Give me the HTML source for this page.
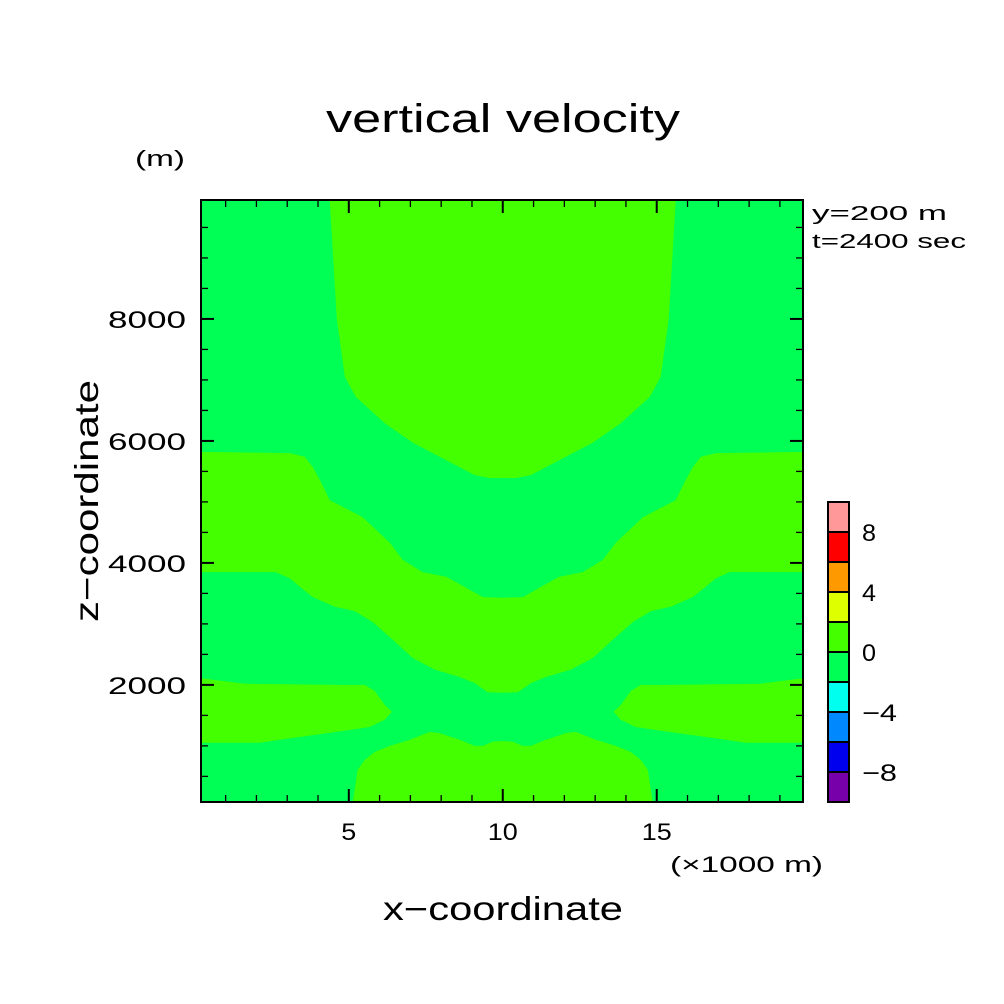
<!DOCTYPE html>
<html><head><meta charset="utf-8"><style>
body{margin:0;background:#fff}
svg{display:block}
text{font-family:"Liberation Sans",sans-serif;fill:#000}
</style></head><body>
<svg id="chart" width="1004" height="1004" viewBox="0 0 1004 1004" xmlns="http://www.w3.org/2000/svg">
<rect width="1004" height="1004" fill="#fff"/>
<text x="326" y="132" font-size="40" textLength="354" lengthAdjust="spacingAndGlyphs">vertical velocity</text>
<text x="135" y="166" font-size="22" textLength="50" lengthAdjust="spacingAndGlyphs">(m)</text>
<g id="plot"></g>
<g id="axes"></g>
<text x="670" y="872" font-size="22" textLength="153" lengthAdjust="spacingAndGlyphs">(×1000 m)</text>
<text x="383" y="920" font-size="33" textLength="240" lengthAdjust="spacingAndGlyphs">x−coordinate</text>
<text x="0" y="0" font-size="33" textLength="242" lengthAdjust="spacingAndGlyphs" transform="translate(98,622) rotate(-90)">z−coordinate</text>
<text x="812" y="220" font-size="20" textLength="135" lengthAdjust="spacingAndGlyphs">y=200 m</text>
<text x="812" y="248" font-size="20" textLength="154" lengthAdjust="spacingAndGlyphs">t=2400 sec</text>
<g id="cbar"></g>
</svg>
<script>
const xDomain=[0.2,19.75], zDomain=[80,9950];
const xTicks=[5,10,15], zTicks=[2000,4000,6000,8000];
const cbarLevels=[-10,-8,-6,-4,-2,0,2,4,6,8,10];
const cbarColors=["#7700aa","#0000ee","#0088ff","#00ffee","#00ff55","#44ff00","#ddff00","#ff9900","#ff0000","#ff9999"];
const cbarLabels=[-8,-4,0,4,8];
// boundary points (x km, z m), left half; mirrored about x=10
const capPts=[[4.38,9950],[4.61,8000],[4.87,7050],[5.23,6720],[6.17,6290],[7.08,5970],[7.95,5740],[9.09,5440],[9.58,5390],[10,5390]];
const bandTop=[[0.2,5820],[3.08,5800],[3.57,5740],[3.83,5570],[4.06,5360],[4.22,5200],[4.38,5030],[5.45,4750],[6.33,4330],[6.75,4050],[7.4,3850],[8.18,3770],[9.35,3440],[10,3430]];
const bandBot=[[0.2,3850],[2.63,3850],[3.08,3750],[3.41,3610],[3.83,3440],[4.55,3280],[5.19,3210],[5.78,3030],[6.43,2740],[7.08,2440],[7.79,2250],[8.6,2130],[9.09,2030],[9.51,1880],[10,1870]];
const lobePts=[[0.2,2110],[1.62,2020],[4.71,2000],[5.52,2000],[5.84,1900],[6.17,1670],[6.4,1560],[6.17,1430],[5.68,1310],[5.03,1260],[3.9,1180],[2.76,1100],[2.11,1050],[0.2,1050]];
const bumpPts=[[5.13,80],[5.29,610],[5.52,770],[5.84,900],[6.33,1000],[6.98,1100],[7.63,1230],[7.95,1210],[8.6,1100],[9.09,1000],[9.35,1000],[9.68,1070],[10,1080]];

const X0=201,X1=803,Y0=802,Y1=200;
const sx=x=>X0+(x-xDomain[0])/(xDomain[1]-xDomain[0])*(X1-X0);
const sz=z=>Y0-(z-zDomain[0])/(zDomain[1]-zDomain[0])*(Y0-Y1);
const mir=p=>[20-p[0],p[1]];
const NS="http://www.w3.org/2000/svg";
function mk(tag,attrs,parent){const e=document.createElementNS(NS,tag);for(const k in attrs)e.setAttribute(k,attrs[k]);parent.appendChild(e);return e;}
const pathOf=pts=>"M"+pts.map(p=>sx(Math.min(Math.max(p[0],xDomain[0]),xDomain[1])).toFixed(1)+","+sz(p[1]).toFixed(1)).join("L")+"Z";
const plot=document.getElementById("plot");
let bg=mk("rect",{x:X0,y:Y1,width:X1-X0,height:Y0-Y1,fill:"#00ff55"},plot);


function sym(left){return left.concat(left.slice(0,-1).reverse().map(mir));}
const cap=sym(capPts);
let c=mk("path",{d:pathOf(cap),fill:"#44ff00"},plot);


const band=bandTop.concat(bandTop.slice(0,-1).reverse().map(mir),bandBot.map(mir),bandBot.slice(0,-1).reverse());
let b=mk("path",{d:pathOf(band),fill:"#44ff00"},plot);


let l1=mk("path",{d:pathOf(lobePts),fill:"#44ff00"},plot);


let l2=mk("path",{d:pathOf(lobePts.map(mir)),fill:"#44ff00"},plot);


let bm=mk("path",{d:pathOf(sym(bumpPts)),fill:"#44ff00"},plot);



const axes=document.getElementById("axes");
let fr=mk("rect",{x:X0,y:Y1,width:X1-X0,height:Y0-Y1,fill:"none",stroke:"#000","stroke-width":2},axes);


for(let k=1;k<=19;k++){const px=sx(k);const L=(k%5==0)?13:7;
 mk("line",{x1:px,y1:Y0,x2:px,y2:Y0-L,stroke:"#000","stroke-width":(k%5==0)?2:1.3},axes);
 mk("line",{x1:px,y1:Y1,x2:px,y2:Y1+L,stroke:"#000","stroke-width":(k%5==0)?2:1.3},axes);}
for(let z=500;z<=9500;z+=500){const py=sz(z);const L=(z%2000==0)?13:7;
 mk("line",{x1:X0,y1:py,x2:X0+L,y2:py,stroke:"#000","stroke-width":(z%2000==0)?2:1.3},axes);
 mk("line",{x1:X1,y1:py,x2:X1-L,y2:py,stroke:"#000","stroke-width":(z%2000==0)?2:1.3},axes);}
xTicks.forEach(v=>{const s=String(v);const w=s.length*15;const t=mk("text",{x:sx(v)-w/2,y:840,"font-size":24,textLength:w,lengthAdjust:"spacingAndGlyphs"},axes);t.textContent=s;
 
 });
zTicks.forEach(v=>{const s=String(v);const w=s.length*19.5;const t=mk("text",{x:186-w,y:sz(v)+9,"font-size":24,textLength:w,lengthAdjust:"spacingAndGlyphs"},axes);t.textContent=s;
 
 });

const cb=document.getElementById("cbar");
const CB0=802,CBH=300,cbx=828,cbw=21;
const cy=v=>CB0-(v-cbarLevels[0])/(cbarLevels[cbarLevels.length-1]-cbarLevels[0])*CBH;
cbarColors.forEach((col,i)=>{const r=mk("rect",{x:cbx,y:cy(cbarLevels[i+1]),width:cbw,height:cy(cbarLevels[i])-cy(cbarLevels[i+1]),fill:col,stroke:"#000","stroke-width":2},cb);
 
 });
cbarLabels.forEach(v=>{const s=v<0?"−"+(-v):String(v);const w=v<0?35:14;const t=mk("text",{x:862,y:cy(v)+9,"font-size":24,textLength:w,lengthAdjust:"spacingAndGlyphs"},cb);t.textContent=s;
 
 });
</script>
</body></html>
